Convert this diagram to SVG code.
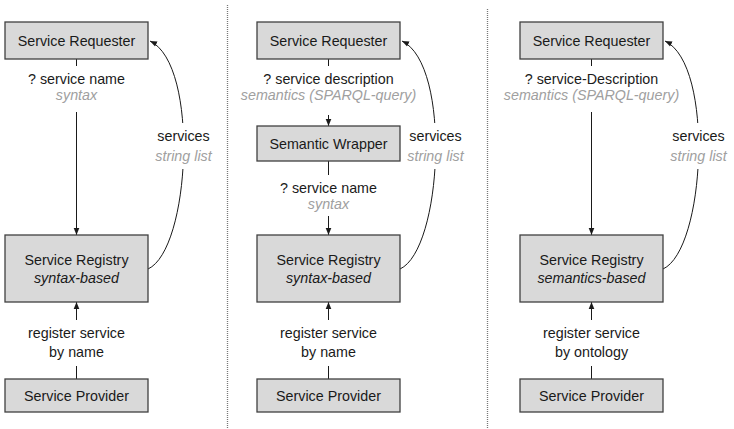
<svg xmlns="http://www.w3.org/2000/svg" width="734" height="429" viewBox="0 0 734 429">
  <style>
    .box { fill: #d9d9d9; stroke: #404040; stroke-width: 1.3; }
    .t { font-family: "Liberation Sans", Arial, sans-serif; font-size: 14.3px; fill: #1a1a1a; text-anchor: middle; }
    .i { font-style: italic; }
    .g { fill: #a0a0a0; }
    .line { fill: none; stroke: #1a1a1a; stroke-width: 1; }
    .arr { marker-end: url(#head); }
    .div { stroke: #777; stroke-width: 1.3; stroke-dasharray: 1 1; }
    .knock { fill: #ffffff; }
  </style>
  <defs>
    <marker id="head" viewBox="0 0 10 10" refX="10" refY="5" markerWidth="7" markerHeight="7" markerUnits="userSpaceOnUse" orient="auto">
      <path d="M0,1 L10,5 L0,9 z" fill="#1a1a1a"/>
    </marker>
  </defs>

  <rect width="734" height="429" fill="#ffffff"/>

  <!-- panel separators -->
  <g id="separators">
    <line class="div" x1="227.5" y1="5" x2="227.5" y2="429"/>
    <line class="div" x1="487.5" y1="9" x2="487.5" y2="429"/>
  </g>

  <!-- connectors -->
  <g id="connectors">
    <!-- panel 1 -->
    <line class="line" x1="76.5" y1="59" x2="76.5" y2="66"/>
    <line class="line arr" x1="76.5" y1="112" x2="76.5" y2="235"/>
    <line class="line arr" x1="76.5" y1="320" x2="76.5" y2="302"/>
    <line class="line" x1="76.5" y1="366" x2="76.5" y2="379"/>
    <path class="line arr" d="M148,269 C190,250 200,65 150,41"/>
    <!-- panel 2 -->
    <line class="line" x1="328.5" y1="59" x2="328.5" y2="66"/>
    <line class="line arr" x1="328.5" y1="115" x2="328.5" y2="126"/>
    <line class="line" x1="328.5" y1="161" x2="328.5" y2="175"/>
    <line class="line arr" x1="328.5" y1="216" x2="328.5" y2="235"/>
    <line class="line arr" x1="328.5" y1="320" x2="328.5" y2="302"/>
    <line class="line" x1="328.5" y1="366" x2="328.5" y2="379"/>
    <path class="line arr" d="M400,269 C442,250 452,65 402,41"/>
    <!-- panel 3 -->
    <line class="line" x1="591.5" y1="59" x2="591.5" y2="66"/>
    <line class="line arr" x1="591.5" y1="112" x2="591.5" y2="235"/>
    <line class="line arr" x1="591.5" y1="320" x2="591.5" y2="302"/>
    <line class="line" x1="591.5" y1="366" x2="591.5" y2="379"/>
    <path class="line arr" d="M663,269 C705,250 715,65 665,41"/>
  </g>

  <!-- connector labels -->
  <g id="labels">
    <text class="t" x="76.5" y="84">? service name</text>
    <text class="t i g" x="76.5" y="100">syntax</text>
    <text class="t" x="76.5" y="338">register service</text>
    <text class="t" x="76.5" y="357">by name</text>
    <rect class="knock" x="152" y="123" width="62" height="46"/>
    <text class="t" x="183.5" y="141">services</text>
    <text class="t i g" x="183.5" y="161">string list</text>

    <text class="t" x="328.5" y="84">? service description</text>
    <text class="t i g" x="328.5" y="100">semantics (SPARQL-query)</text>
    <text class="t" x="328.5" y="193">? service name</text>
    <text class="t i g" x="328.5" y="209">syntax</text>
    <text class="t" x="328.5" y="338">register service</text>
    <text class="t" x="328.5" y="357">by name</text>
    <rect class="knock" x="404" y="123" width="62" height="46"/>
    <text class="t" x="435.5" y="141">services</text>
    <text class="t i g" x="435.5" y="161">string list</text>

    <text class="t" x="591.5" y="84">? service-Description</text>
    <text class="t i g" x="591.5" y="100">semantics (SPARQL-query)</text>
    <text class="t" x="591.5" y="338">register service</text>
    <text class="t" x="591.5" y="357">by ontology</text>
    <rect class="knock" x="667" y="123" width="62" height="46"/>
    <text class="t" x="698.5" y="141">services</text>
    <text class="t i g" x="698.5" y="161">string list</text>
  </g>

  <!-- panel 1: syntax-based registry -->
  <g id="p1-requester">
    <rect class="box" x="5" y="22" width="143" height="37"/>
    <text class="t" x="76.5" y="45.5">Service Requester</text>
  </g>
  <g id="p1-registry">
    <rect class="box" x="5" y="235" width="143" height="67"/>
    <text class="t" x="76.5" y="265">Service Registry</text>
    <text class="t i" x="76.5" y="283">syntax-based</text>
  </g>
  <g id="p1-provider">
    <rect class="box" x="5" y="379" width="143" height="33"/>
    <text class="t" x="76.5" y="401">Service Provider</text>
  </g>

  <!-- panel 2: semantic wrapper in front of a syntax-based registry -->
  <g id="p2-requester">
    <rect class="box" x="257" y="22" width="143" height="37"/>
    <text class="t" x="328.5" y="45.5">Service Requester</text>
  </g>
  <g id="p2-wrapper">
    <rect class="box" x="257" y="126" width="143" height="35"/>
    <text class="t" x="328.5" y="148.5">Semantic Wrapper</text>
  </g>
  <g id="p2-registry">
    <rect class="box" x="257" y="235" width="143" height="67"/>
    <text class="t" x="328.5" y="265">Service Registry</text>
    <text class="t i" x="328.5" y="283">syntax-based</text>
  </g>
  <g id="p2-provider">
    <rect class="box" x="257" y="379" width="143" height="33"/>
    <text class="t" x="328.5" y="401">Service Provider</text>
  </g>

  <!-- panel 3: semantics-based registry -->
  <g id="p3-requester">
    <rect class="box" x="520" y="22" width="143" height="37"/>
    <text class="t" x="591.5" y="45.5">Service Requester</text>
  </g>
  <g id="p3-registry">
    <rect class="box" x="520" y="235" width="143" height="67"/>
    <text class="t" x="591.5" y="265">Service Registry</text>
    <text class="t i" x="591.5" y="283">semantics-based</text>
  </g>
  <g id="p3-provider">
    <rect class="box" x="520" y="379" width="143" height="33"/>
    <text class="t" x="591.5" y="401">Service Provider</text>
  </g>
</svg>
